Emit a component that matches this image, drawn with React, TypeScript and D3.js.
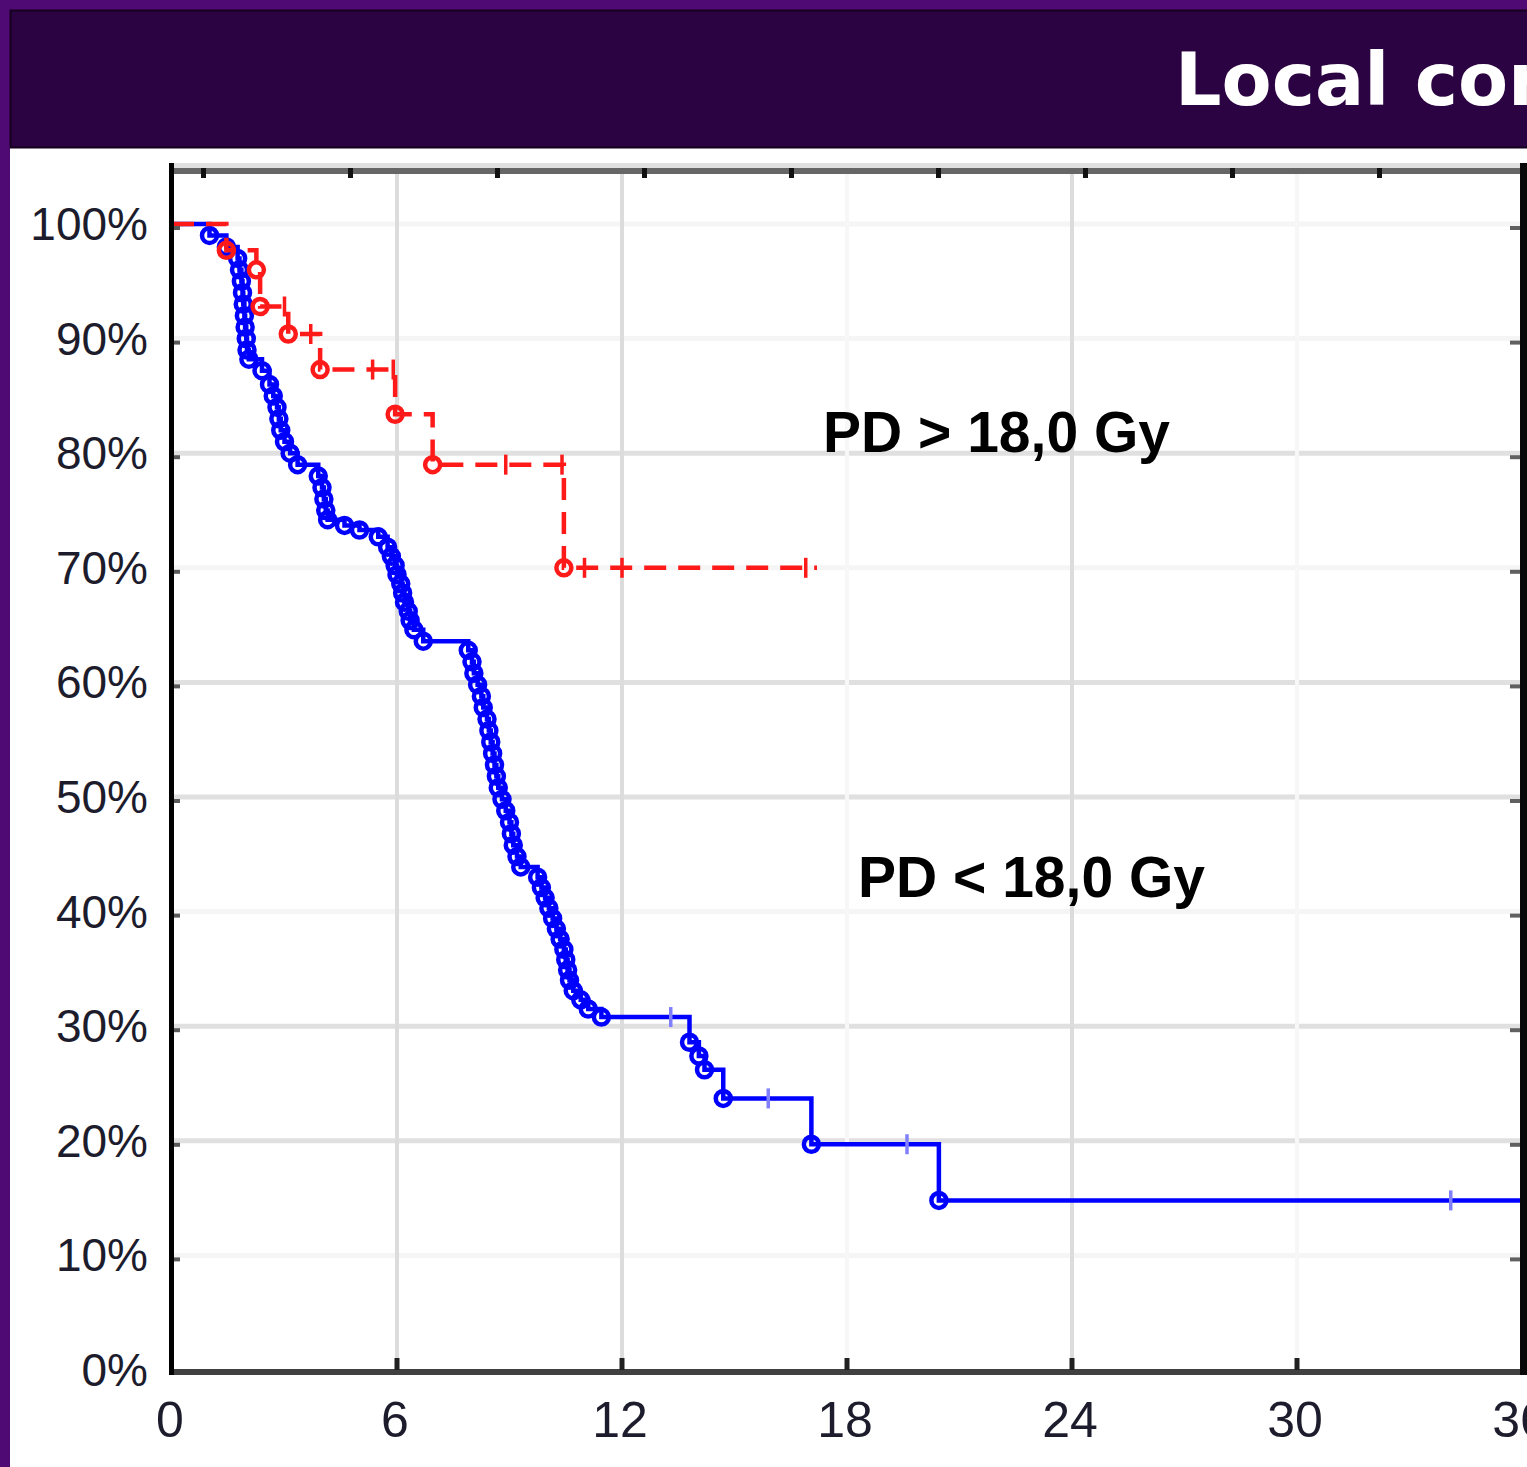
import React from "react";
import * as d3 from "d3";

// axis ticks
const xTicks = [0, 6, 12, 18, 24, 30, 36];
const yTicks = [0, 10, 20, 30, 40, 50, 60, 70, 80, 90, 100];
const strongY = [80, 60, 50, 30, 20];
const strongX = [6, 12, 24];
const topTickIdx = [0, 1, 2, 3, 4, 5, 6, 7, 8];

// PD < 18,0 Gy (blue) - event times (months) and survival (%)
const blueTimes = [
  1.0, 1.45, 1.75, 1.8, 1.85, 1.88, 1.9, 1.93, 1.95, 1.98, 2.0, 2.05, 2.4, 2.6,
  2.7, 2.8, 2.85, 2.9, 3.0, 3.15, 3.35, 3.9, 4.0, 4.05, 4.1, 4.15, 4.6, 5.0,
  5.5, 5.75, 5.85, 5.95, 6.0, 6.1, 6.15, 6.2, 6.3, 6.35, 6.45, 6.7, 7.9, 8.0,
  8.05, 8.15, 8.25, 8.3, 8.4, 8.45, 8.5, 8.55, 8.6, 8.65, 8.7, 8.8, 8.9, 9.0,
  9.05, 9.1, 9.2, 9.3, 9.75, 9.85, 9.95, 10.05, 10.15, 10.25, 10.35, 10.45,
  10.5, 10.55, 10.6, 10.7, 10.9, 11.1, 11.45, 13.8, 14.05, 14.2, 14.7, 17.05,
  20.45,
];
const blueSurv = [
  99.0, 98.0, 97.0, 96.0, 95.0, 94.0, 93.0, 92.0, 91.0, 90.0, 89.0, 88.2, 87.2,
  86.0, 85.0, 84.0, 83.0, 82.0, 81.0, 80.0, 79.0, 78.0, 77.0, 76.0, 75.0, 74.2,
  73.7, 73.3, 72.7, 71.8, 71.0, 70.2, 69.4, 68.6, 67.8, 67.0, 66.2, 65.4, 64.6,
  63.6, 62.8, 61.8, 60.8, 59.8, 58.8, 57.8, 56.8, 55.8, 54.8, 53.8, 52.8, 51.8,
  50.8, 49.8, 48.8, 47.8, 46.8, 45.8, 44.8, 43.9, 43.0, 42.1, 41.2, 40.3, 39.4,
  38.5, 37.6, 36.7, 35.8, 34.9, 34.0, 33.1, 32.3, 31.5, 30.8, 28.6, 27.4, 26.2,
  23.7, 19.7, 14.8,
];
const blueCensor = [13.3, 15.9, 19.6, 34.1];
const blueEnd = 36;

// PD > 18,0 Gy (red)
const redTimes = [1.45, 2.25, 2.35, 3.1, 3.95, 5.95, 6.95, 10.45];
const redSurv = [97.7, 96.0, 92.8, 90.4, 87.3, 83.4, 79.0, 70.0];
const redCensor = [3.0, 3.7, 5.35, 5.9, 8.9, 10.4, 11.0, 12.0, 16.9];
const redEnd = 17.2;

const W = 1527, H = 1467;
const x = d3.scaleLinear().domain([0, 36]).range([172, 1522]);
const y = d3.scaleLinear().domain([0, 100]).range([1370, 224]);
const xTop = d3.scaleLinear().domain([0, 8]).range([203.5, 1379.5]);

function survAt(times: number[], surv: number[], t: number) {
  let s = 100;
  times.forEach((tt, i) => { if (tt <= t) s = surv[i]; });
  return s;
}

function stepPath(times: number[], surv: number[], end: number) {
  const pts: [number, number][] = [[0, 100]];
  times.forEach((t, i) => pts.push([t, surv[i]]));
  pts.push([end, surv[surv.length - 1]]);
  return d3.line<[number, number]>()
    .x(d => x(d[0]))
    .y(d => y(d[1]))
    .curve(d3.curveStepAfter)(pts) || "";
}

function Curve({ times, surv, end, censor, color, censorColor, dash }: any) {
  return (
    <g>
      <path d={stepPath(times, surv, end)} fill="none" stroke={color}
        strokeWidth={4.5} strokeDasharray={dash} />
      {times.map((t: number, i: number) => (
        <circle key={"c" + i} cx={x(t)} cy={y(surv[i])} r={7.5}
          fill="none" stroke={color} strokeWidth={4.5} />
      ))}
      {censor.map((t: number, i: number) => (
        <line key={"t" + i} x1={x(t)} x2={x(t)}
          y1={y(survAt(times, surv, t)) - 10} y2={y(survAt(times, surv, t)) + 10}
          stroke={censorColor} strokeWidth={3.5} />
      ))}
    </g>
  );
}

export default function App() {
  const font = "'Liberation Sans', Arial, sans-serif";
  return (
    <div style={{ position: "absolute", left: 0, top: 0 }}>
      <svg width={W} height={H} style={{ display: "block" }}>
        <rect x={0} y={0} width={W} height={H} fill="#500a74" />
        <rect x={10} y={148} width={W - 10} height={H - 148} fill="#ffffff" />
        <rect x={10.5} y={10.5} width={W} height={137} fill="#2c0342" stroke="#16001f" strokeWidth={2} />
        <text x={1175} y={105} fill="#ffffff" fontFamily="'DejaVu Sans', Verdana, sans-serif"
          fontWeight="bold" fontSize={73}>Local control</text>

        {/* gridlines */}
        {yTicks.filter(v => v > 0).map(v => (
          <line key={"gy" + v} x1={174} x2={1520} y1={y(v)} y2={y(v)}
            stroke={strongY.includes(v) ? "#e0e0e0" : "#f5f5f5"} strokeWidth={5} />
        ))}
        {xTicks.filter(v => v > 0 && v < 36).map(v => (
          <line key={"gx" + v} x1={x(v)} x2={x(v)} y1={174} y2={1369}
            stroke={strongX.includes(v) ? "#dcdcdc" : "#f7f7f7"} strokeWidth={4} />
        ))}

        {/* curves */}
        <Curve times={blueTimes} surv={blueSurv} end={blueEnd} censor={blueCensor}
          color="#0000ff" censorColor="#8080ff" />
        <Curve times={redTimes} surv={redSurv} end={redEnd} censor={redCensor}
          color="#ff1a1a" censorColor="#ff1a1a" dash="22 12" />

        {/* frame */}
        <line x1={169} x2={W} y1={165.5} y2={165.5} stroke="#e0e0e0" strokeWidth={5} />
        <line x1={169} x2={W} y1={171} y2={171} stroke="#666666" strokeWidth={6} />
        <line x1={169} x2={W} y1={1372} y2={1372} stroke="#404040" strokeWidth={6} />
        <line x1={171.5} x2={171.5} y1={163} y2={1375} stroke="#000000" strokeWidth={5} />
        <line x1={1523.5} x2={1523.5} y1={163} y2={1375} stroke="#080808" strokeWidth={7} />
        {topTickIdx.map(i => (
          <line key={"tt" + i} x1={xTop(i)} x2={xTop(i)} y1={168} y2={178}
            stroke="#111" strokeWidth={5} />
        ))}
        {xTicks.filter(v => v > 0 && v < 36).map(v => (
          <line key={"bt" + v} x1={x(v)} x2={x(v)} y1={1358} y2={1370}
            stroke="#202020" strokeWidth={5} />
        ))}
        {yTicks.filter(v => v > 0).map(v => (
          <g key={"yt" + v}>
            <line x1={174} x2={180} y1={y(v) + 4} y2={y(v) + 4} stroke="#5a5a5a" strokeWidth={4} />
            <line x1={1510} x2={1520} y1={y(v) + 4} y2={y(v) + 4} stroke="#606060" strokeWidth={4} />
          </g>
        ))}

        {/* tick labels */}
        {yTicks.map(v => (
          <text key={"yl" + v} x={148} y={y(v) + 16} textAnchor="end" fontFamily={font}
            fontSize={46} fill="#1c1c2c">{v + "%"}</text>
        ))}
        {xTicks.map(v => (
          <text key={"xl" + v} x={x(v) - 2} y={1437} textAnchor="middle" fontFamily={font}
            fontSize={50} fill="#1c1c2c">{v}</text>
        ))}

        {/* group labels */}
        <text x={823} y={452} fontFamily={font} fontWeight="bold" fontSize={57} fill="#000">PD &gt; 18,0 Gy</text>
        <text x={858} y={897} fontFamily={font} fontWeight="bold" fontSize={57} fill="#000">PD &lt; 18,0 Gy</text>
      </svg>
    </div>
  );
}
